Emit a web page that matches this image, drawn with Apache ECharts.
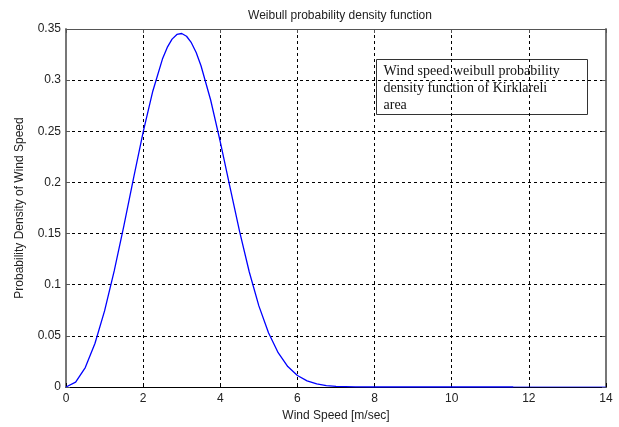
<!DOCTYPE html>
<html>
<head>
<meta charset="utf-8">
<script src="https://cdn.jsdelivr.net/npm/echarts@6/dist/echarts.min.js"></script>
<style>html,body{margin:0;padding:0;background:#fff}#c{width:619px;height:427px}</style>
</head>
<body>
<div id="c"></div>
<script>
// Wind speed (m/s) sample points
var windSpeed = [0, 0.25, 0.5, 0.75, 1.0, 1.25, 1.5, 1.75, 2.0, 2.25, 2.5, 2.625, 2.75, 2.875, 3.0, 3.125, 3.25, 3.375, 3.5, 3.75, 4.0, 4.25, 4.5, 4.75, 5.0, 5.25, 5.5, 5.75, 6.0, 6.25, 6.5, 6.75, 7.0, 7.5, 8, 9, 10, 11, 11.6];
// Probability density values
var density = [0, 0.0048, 0.019, 0.0425, 0.0744, 0.1135, 0.1576, 0.204, 0.2491, 0.2892, 0.3206, 0.332, 0.3401, 0.3447, 0.3456, 0.3429, 0.3366, 0.327, 0.3141, 0.2806, 0.2397, 0.1956, 0.1521, 0.1127, 0.0793, 0.053, 0.0335, 0.02, 0.0113, 0.006, 0.003, 0.0014, 0.0006, 0.0001, 0, 0, 0, 0, 0];
// thin tail along the axis after the curve ends
var tailX = [11.6, 14];
var tailY = [0, 0];
var xTicks = [0, 2, 4, 6, 8, 10, 12, 14];
var yTicks = [0, 0.05, 0.1, 0.15, 0.2, 0.25, 0.3, 0.35];
var titleText = 'Weibull probability density function';
var xName = 'Wind Speed [m/sec]';
var yName = 'Probability Density of Wind Speed';
var noteText = 'Wind speed weibull probability\ndensity function of Kirklareli\narea';

var mainData = windSpeed.map(function (x, i) { return [x, density[i]]; });
var tailData = tailX.map(function (x, i) { return [x, tailY[i]]; });

var font = 'Liberation Sans, Arial, sans-serif';
var chart = echarts.init(document.getElementById('c'), null, {renderer: 'canvas'});
chart.setOption({
  animation: false,
  backgroundColor: '#fff',
  title: {
    text: titleText,
    left: 335, top: 5, textAlign: 'center',
    textStyle: {fontFamily: font, fontSize: 12, fontWeight: 'normal', color: '#222'}
  },
  grid: {left: 66, right: 13, top: 29, bottom: 40, containLabel: false},
  xAxis: [{
    type: 'value', min: 0, max: 14, interval: 2, position: 'bottom',
    name: xName, nameLocation: 'middle', nameGap: 20,
    nameTextStyle: {fontFamily: font, fontSize: 12, color: '#222'},
    axisLine: {show: true, onZero: false, lineStyle: {color: '#000', width: 1}},
    axisTick: {show: true, inside: true, length: 4, lineStyle: {color: '#000'}},
    axisLabel: {fontFamily: font, fontSize: 12, color: '#222', margin: 6},
    splitLine: {show: true, lineStyle: {color: '#000', type: [3, 3], width: 1}}
  }, {
    type: 'value', min: 0, max: 14, interval: 2, position: 'top',
    axisLine: {show: true, onZero: false, lineStyle: {color: '#555', width: 1}},
    axisTick: {show: true, inside: true, length: 4, lineStyle: {color: '#555'}},
    axisLabel: {show: false}, splitLine: {show: false}
  }],
  yAxis: [{
    type: 'value', min: 0, max: 0.35, interval: 0.05, position: 'left',
    name: yName, nameLocation: 'middle', nameGap: 40, nameRotate: 90,
    nameTextStyle: {fontFamily: font, fontSize: 12, color: '#222'},
    axisLine: {show: true, onZero: false, lineStyle: {color: '#777', width: 2}},
    axisTick: {show: true, inside: true, length: 4, lineStyle: {color: '#555'}},
    axisLabel: {fontFamily: font, fontSize: 12, color: '#222', margin: 5,
      formatter: function (v) { return String(parseFloat(v.toFixed(2))); }},
    splitLine: {show: true, lineStyle: {color: '#000', type: [3, 3], width: 1}}
  }, {
    type: 'value', min: 0, max: 0.35, interval: 0.05, position: 'right',
    axisLine: {show: true, onZero: false, lineStyle: {color: '#777', width: 2}},
    axisTick: {show: true, inside: true, length: 4, lineStyle: {color: '#555'}},
    axisLabel: {show: false}, splitLine: {show: false}
  }],
  series: [{
    type: 'line', data: mainData, showSymbol: false, smooth: false,
    lineStyle: {color: '#0000ff', width: 1.3}, z: 5
  }, {
    type: 'line', data: tailData, showSymbol: false,
    lineStyle: {color: '#0000ff', width: 0.8}, z: 4
  }],
  graphic: [{
    type: 'group', left: 376, top: 59,
    children: [{
      type: 'rect', shape: {x: 0, y: 0, width: 211, height: 55},
      style: {fill: '#fff', stroke: '#333', lineWidth: 1}
    }, {
      type: 'text', x: 7, y: 3,
      style: {text: noteText, fontFamily: 'Liberation Serif, Times New Roman, serif', fontSize: 14, lineHeight: 17, fill: '#111'}
    }]
  }]
});
</script>
</body>
</html>
